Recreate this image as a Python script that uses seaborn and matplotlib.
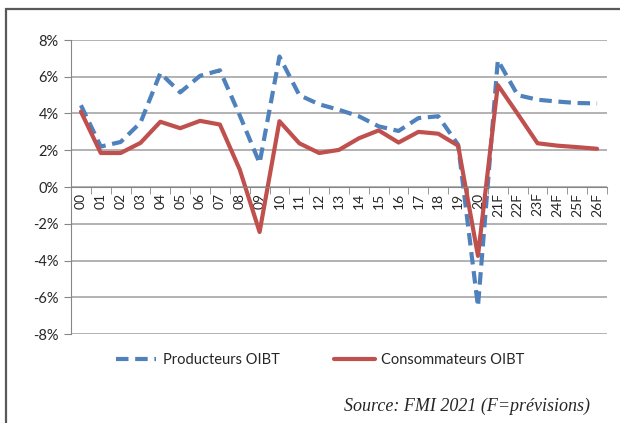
import pandas as pd
import matplotlib.pyplot as plt
import seaborn as sns
from matplotlib.patches import Rectangle
from matplotlib.lines import Line2D
from matplotlib.ticker import FixedLocator, FuncFormatter

years = ["00", "01", "02", "03", "04", "05", "06", "07", "08", "09",
         "10", "11", "12", "13", "14", "15", "16", "17", "18", "19",
         "20", "21F", "22F", "23F", "24F", "25F", "26F"]
producteurs = [4.45, 2.2, 2.45, 3.5, 6.2, 5.15, 6.05, 6.35, 3.9, 1.3,
               7.1, 5.0, 4.5, 4.2, 3.85, 3.3, 3.05, 3.75, 3.85, 2.3,
               -6.5, 6.9, 5.0, 4.75, 4.65, 4.57, 4.55]
consommateurs = [4.1, 1.85, 1.85, 2.4, 3.55, 3.2, 3.6, 3.4, 0.95, -2.45,
                 3.58, 2.38, 1.85, 2.02, 2.65, 3.08, 2.42, 3.0, 2.9, 2.25,
                 -3.75, 5.55, 3.98, 2.38, 2.25, 2.17, 2.08]

df = pd.DataFrame({
    "pos": list(range(len(years))) * 2,
    "val": producteurs + consommateurs,
    "serie": ["Producteurs OIBT"] * len(years) + ["Consommateurs OIBT"] * len(years),
})

sns.set_style("white")
plt.rcParams["font.family"] = ["Lato", "DejaVu Sans"]

fig = plt.figure(figsize=(6.2, 4.23), dpi=100)
ax = fig.add_axes([71 / 620, 1 - 334 / 423, 536 / 620, 294 / 423])

sns.lineplot(data=df, x="pos", y="val", hue="serie", style="serie",
             palette={"Producteurs OIBT": "#4F81BD", "Consommateurs OIBT": "#C0504D"},
             dashes={"Producteurs OIBT": (3, 1.6), "Consommateurs OIBT": ""},
             linewidth=3, ax=ax, legend=False)

ax.set_xlim(-0.5, len(years) - 0.5)
ax.set_ylim(-8, 8)
ax.set_yticks(range(-8, 9, 2))
ax.yaxis.set_major_formatter(FuncFormatter(lambda v, p: f"{int(v)}%"))
ax.tick_params(axis="y", length=5, color="#868686", labelsize=10.5, pad=4, direction="out", left=True)
ax.grid(axis="y", color="#A6A6A6", linewidth=1.2)
ax.set_axisbelow(True)

ax.spines["bottom"].set_position(("data", 0))
ax.spines["bottom"].set_color("#868686")
ax.spines["left"].set_color("#868686")
ax.spines["top"].set_visible(False)
ax.spines["right"].set_visible(False)
ax.set_xticks(range(len(years)))
ax.set_xticklabels(years, rotation=90, fontsize=10)
ax.xaxis.set_minor_locator(FixedLocator([i - 0.5 for i in range(len(years) + 1)]))
ax.tick_params(axis="x", which="major", length=0, pad=4, bottom=True)
ax.tick_params(axis="x", which="minor", length=5, color="#868686", direction="out", bottom=True)
ax.set_xlabel("")
ax.set_ylabel("")

# legend sous le graphique
handles = [Line2D([], [], color="#4F81BD", lw=3, dashes=(3, 1.6)),
           Line2D([], [], color="#C0504D", lw=3)]
fig.legend(handles, ["Producteurs OIBT", "Consommateurs OIBT"], ncol=2,
           loc="center", bbox_to_anchor=(320 / 620, 1 - 360 / 423), frameon=False,
           fontsize=10.5, handlelength=2.8, columnspacing=3.7, handletextpad=0.45)

fig.text(590 / 620, 1 - 406 / 423, "Source: FMI 2021 (F=prévisions)", ha="right", va="center",
         fontsize=13, style="italic", family="Liberation Serif")

fig.patches.append(Rectangle((6 / 620, -0.1), 1.2, 1 - 9 / 423 + 0.1, transform=fig.transFigure,
                             fill=False, edgecolor="#595959", linewidth=1.6))

fig.savefig("out.png", dpi=100)
